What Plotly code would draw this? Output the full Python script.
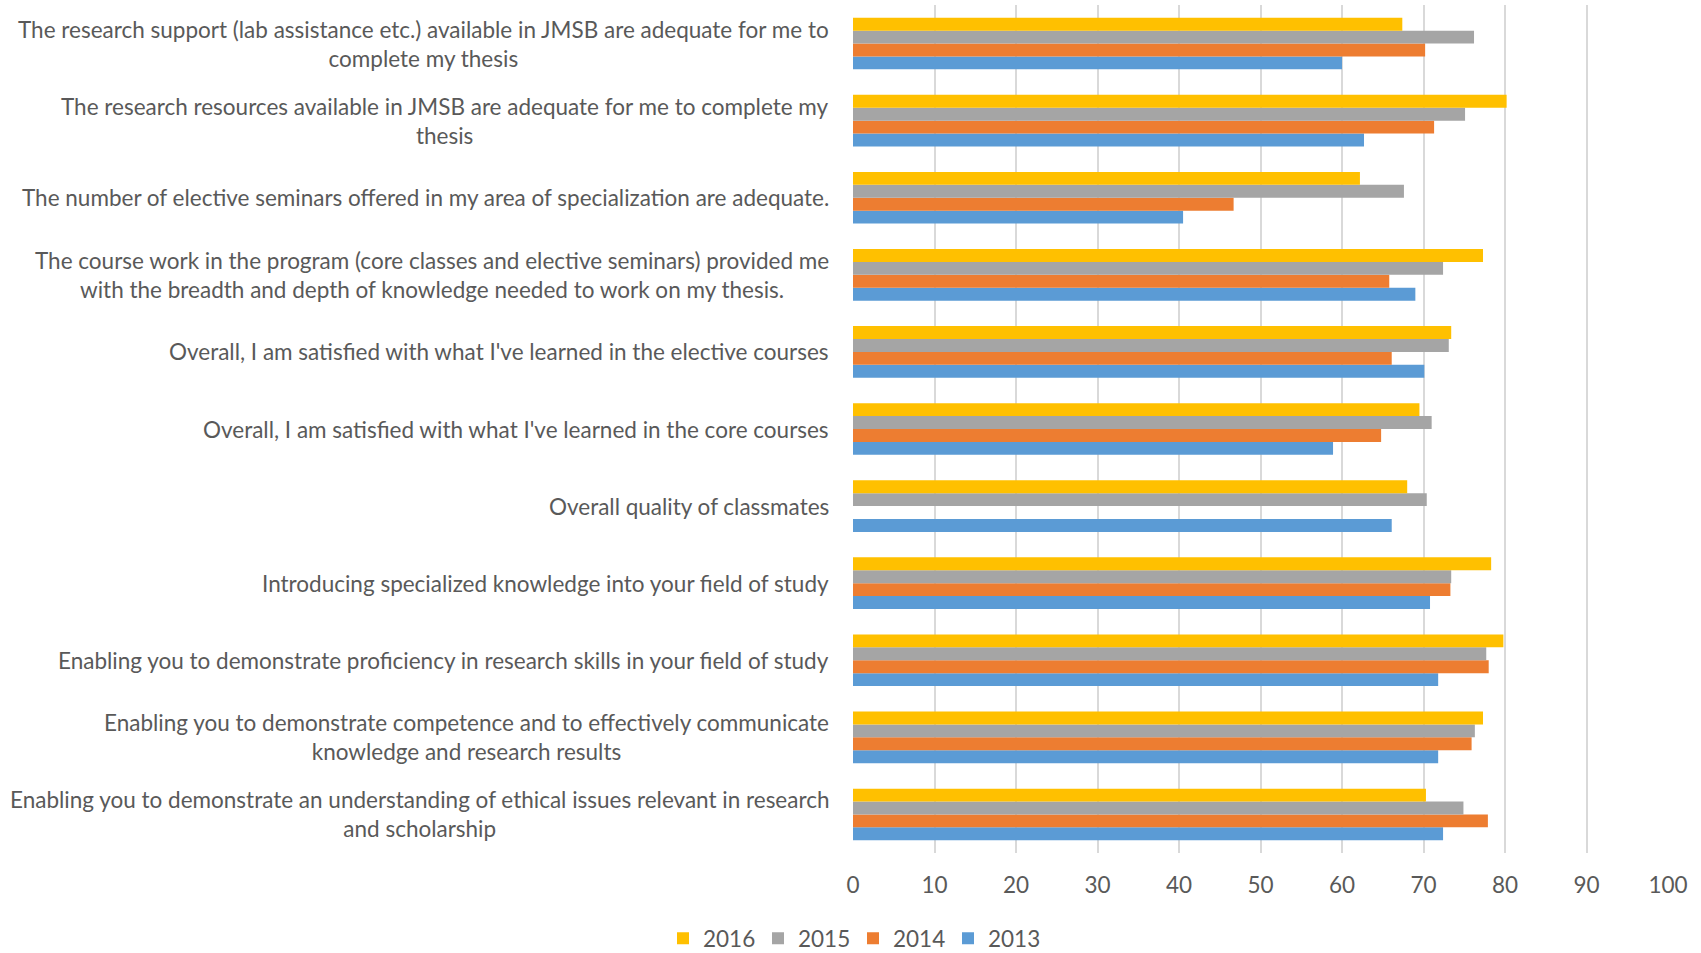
import plotly.graph_objects as go

categories = [
    "The research support (lab assistance etc.) available in JMSB are adequate for me to<br>complete my thesis",
    "The research resources available in JMSB are adequate for me to complete my<br>thesis",
    "The number of elective seminars offered in my area of specialization are adequate.",
    "The course work in the program (core classes and elective seminars) provided me<br>with the breadth and depth of knowledge needed to work on my thesis.",
    "Overall, I am satisfied with what I've learned in the elective courses",
    "Overall, I am satisfied with what I've learned in the core courses",
    "Overall quality of classmates",
    "Introducing specialized knowledge into your field of study",
    "Enabling you to demonstrate proficiency in research skills in your field of study",
    "Enabling you to demonstrate competence and to effectively communicate<br>knowledge and research results",
    "Enabling you to demonstrate an understanding of ethical issues relevant in research<br>and scholarship",
]

v2016 = [67.4, 80.2, 62.2, 77.3, 73.4, 69.5, 68.0, 78.3, 79.8, 77.3, 70.3]
v2015 = [76.2, 75.1, 67.6, 72.4, 73.1, 71.0, 70.4, 73.4, 77.7, 76.3, 74.9]
v2014 = [70.2, 71.3, 46.7, 65.8, 66.1, 64.8, None, 73.3, 78.0, 75.9, 77.9]
v2013 = [60.0, 62.7, 40.5, 69.0, 70.1, 58.9, 66.1, 70.8, 71.8, 71.8, 72.4]

series = [
    ("2013", v2013, "#5B9BD5"),
    ("2014", v2014, "#ED7D31"),
    ("2015", v2015, "#A5A5A5"),
    ("2016", v2016, "#FFC000"),
]

FONT = "Lato"
TXT = "#595959"
FS = 22.5

fig = go.Figure()
for name, vals, color in series:
    fig.add_trace(go.Bar(
        y=categories, x=vals, name=name, orientation="h",
        marker=dict(color=color, line=dict(width=0)),
    ))

for c in categories:
    fig.add_annotation(
        x=0, xref="paper", y=c, yref="y", text=c, showarrow=False,
        xanchor="right", yanchor="middle", align="center", xshift=-22,
        font=dict(family=FONT, size=FS, color=TXT),
    )

fig.update_layout(
    width=1701, height=953,
    margin=dict(l=853, r=33, t=5, b=100),
    paper_bgcolor="white", plot_bgcolor="white",
    barmode="group", bargap=0.33, bargroupgap=0,
    font=dict(family=FONT, size=FS, color=TXT),
    xaxis=dict(
        range=[0, 100], dtick=10, showgrid=True, gridcolor="#D9D9D9",
        gridwidth=1.5, zeroline=False, showline=False,
        ticks="", ticklabelstandoff=16,
        tickfont=dict(family=FONT, size=FS, color=TXT),
    ),
    yaxis=dict(
        categoryorder="array", categoryarray=categories[::-1],
        showticklabels=False, showgrid=False, zeroline=False, showline=False,
        ticks="",
    ),
    legend=dict(
        orientation="h", x=0.0, xanchor="center",
        yref="container", y=0.015, yanchor="middle",
        traceorder="reversed", entrywidth=50, entrywidthmode="pixels",
        font=dict(family=FONT, size=FS, color=TXT), itemwidth=30,
    ),
)

fig.write_html("out.html")
